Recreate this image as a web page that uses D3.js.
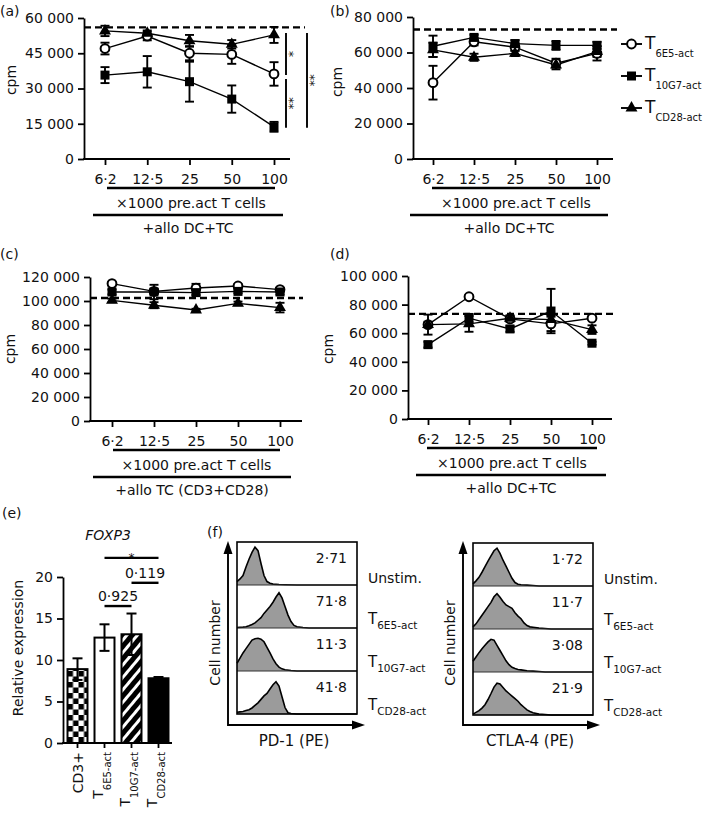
<!DOCTYPE html>
<html><head><meta charset="utf-8">
<script src="https://cdn.jsdelivr.net/npm/d3@7"></script>
<style>
body{margin:0;background:#fff}
svg{display:block}
text{font-family:"DejaVu Sans",Verdana,sans-serif;fill:#111}
</style>
</head><body>
<svg id="c" width="709" height="813"></svg>
<script>
// ---------------- DATA ----------------
const doses = ["6·2","12·5","25","50","100"];
const seriesNames = ["T6E5-act","T10G7-act","TCD28-act"];

// panel (a)
const a6E5 = [47000, 52300, 45000, 44500, 36200];
const a6E5Err = [2500, 1800, 3000, 4000, 5000];
const a10G7 = [35700, 37100, 32900, 25500, 13700];
const a10G7Err = [3400, 6700, 8500, 5800, 2100];
const aCD28 = [54500, 53500, 50300, 48800, 52800];
const aCD28Err = [2200, 1200, 2500, 1800, 3400];
const aRef = 56000;
const aTicks = [0, 15000, 30000, 45000, 60000];

// panel (b)
const b6E5 = [43000, 66000, 63000, 54000, 59500];
const b6E5Err = [9500, 2000, 2000, 2500, 4000];
const b10G7 = [63500, 68500, 65000, 64000, 64000];
const b10G7Err = [6000, 1500, 2000, 2500, 2000];
const bCD28 = [61500, 57300, 59500, 53000, 60500];
const bCD28Err = [4000, 2000, 1500, 2500, 3000];
const bRef = 73000;
const bTicks = [0, 20000, 40000, 60000, 80000];

// panel (c)
const c6E5 = [114500, 108000, 110800, 112500, 109500];
const c6E5Err = [1000, 2000, 3500, 1500, 1500];
const c10G7 = [107500, 107500, 107000, 108000, 107500];
const c10G7Err = [2000, 6000, 2000, 1500, 2000];
const cCD28 = [100500, 96500, 92500, 98000, 94500];
const cCD28Err = [1500, 2500, 1000, 1500, 4000];
const cRef = 102500;
const cTicks = [0, 20000, 40000, 60000, 80000, 100000, 120000];

// panel (d)
const d6E5 = [66000, 85500, 70000, 66500, 70500];
const d6E5Err = [2000, 1000, 2000, 5000, 1000];
const d10G7 = [52000, 70500, 63000, 75500, 53000];
const d10G7Err = [2000, 3000, 2000, 15500, 1000];
const dCD28 = [66000, 66500, 70500, 69500, 62500];
const dCD28Err = [7000, 5500, 2000, 3000, 3000];
const dRef = 73500;
const dTicks = [0, 20000, 40000, 60000, 80000, 100000];

// significance in (a): pairs of series (index) compared at dose 100
const aSigPairs = [[2, 0, "*"], [0, 1, "**"], [2, 1, "**"]];

// panel (e)
const eCats = ["CD3+", "T6E5-act", "T10G7-act", "TCD28-act"];
const eVals = [8.9, 12.7, 13.1, 7.8];
const eErr = [1.3, 1.6, 2.5, 0.15];
const eTicks = [0, 5, 10, 15, 20];
const eSig = [["T6E5-act", "T10G7-act", "0·925", 16.5], ["T10G7-act", "TCD28-act", "0·119", 19.3], ["T6E5-act", "TCD28-act", "*", 22.3]];

// panel (f)
const fRows = ["Unstim.", "T6E5-act", "T10G7-act", "TCD28-act"];
const pd1Pct = ["2·71", "71·8", "11·3", "41·8"];
const ctla4Pct = ["1·72", "11·7", "3·08", "21·9"];
const pd1Unstim = [[0,0.08],[0.025,0.14],[0.05,0.22],[0.075,0.42],[0.1,0.6],[0.125,0.76],[0.15,0.88],[0.175,0.8],[0.2,0.5],[0.225,0.22],[0.25,0.08],[0.275,0.04],[0.3,0.02],[0.35,0.01],[0.4,0.005],[0.5,0],[1,0]];
const pd1T6E5 = [[0,0.01],[0.05,0.02],[0.075,0.03],[0.1,0.05],[0.125,0.08],[0.15,0.12],[0.175,0.18],[0.2,0.24],[0.225,0.34],[0.25,0.42],[0.275,0.5],[0.3,0.6],[0.325,0.72],[0.35,0.82],[0.375,0.7],[0.4,0.5],[0.425,0.3],[0.45,0.15],[0.475,0.06],[0.5,0.03],[0.55,0.01],[0.6,0],[1,0]];
const pd1T10G7 = [[0,0.18],[0.025,0.3],[0.05,0.42],[0.075,0.52],[0.1,0.62],[0.125,0.72],[0.15,0.75],[0.175,0.76],[0.2,0.74],[0.225,0.68],[0.25,0.55],[0.275,0.42],[0.3,0.28],[0.325,0.17],[0.35,0.09],[0.375,0.05],[0.4,0.03],[0.45,0.01],[0.5,0],[1,0]];
const pd1TCD28 = [[0,0.04],[0.025,0.05],[0.05,0.06],[0.075,0.08],[0.1,0.1],[0.125,0.14],[0.15,0.2],[0.175,0.26],[0.2,0.34],[0.225,0.42],[0.25,0.48],[0.275,0.58],[0.3,0.68],[0.325,0.75],[0.35,0.65],[0.375,0.4],[0.4,0.15],[0.425,0.03],[0.45,0.01],[0.5,0],[1,0]];
const ctlaUnstim = [[0,0.05],[0.025,0.12],[0.05,0.2],[0.075,0.32],[0.1,0.45],[0.125,0.58],[0.15,0.7],[0.175,0.82],[0.2,0.88],[0.225,0.76],[0.25,0.6],[0.275,0.46],[0.3,0.32],[0.325,0.18],[0.35,0.08],[0.375,0.04],[0.4,0.03],[0.45,0.02],[0.5,0.01],[0.55,0],[1,0]];
const ctlaT6E5 = [[0,0.05],[0.025,0.12],[0.05,0.22],[0.075,0.32],[0.1,0.42],[0.125,0.52],[0.15,0.62],[0.175,0.75],[0.2,0.82],[0.225,0.74],[0.25,0.64],[0.275,0.56],[0.3,0.52],[0.325,0.48],[0.35,0.38],[0.375,0.3],[0.4,0.24],[0.425,0.14],[0.45,0.08],[0.475,0.05],[0.5,0.04],[0.55,0.02],[0.6,0.01],[0.65,0],[1,0]];
const ctlaT10G7 = [[0,0.25],[0.025,0.35],[0.05,0.45],[0.075,0.54],[0.1,0.62],[0.125,0.7],[0.15,0.76],[0.175,0.74],[0.2,0.62],[0.225,0.5],[0.25,0.38],[0.275,0.26],[0.3,0.17],[0.325,0.11],[0.35,0.08],[0.375,0.06],[0.4,0.05],[0.45,0.03],[0.5,0.02],[0.55,0.01],[0.6,0],[1,0]];
const ctlaTCD28 = [[0,0.02],[0.025,0.06],[0.05,0.1],[0.075,0.16],[0.1,0.24],[0.125,0.36],[0.15,0.5],[0.175,0.65],[0.2,0.74],[0.225,0.72],[0.25,0.64],[0.275,0.56],[0.3,0.5],[0.325,0.44],[0.35,0.38],[0.375,0.32],[0.4,0.24],[0.425,0.18],[0.45,0.12],[0.475,0.08],[0.5,0.05],[0.55,0.02],[0.6,0.01],[0.65,0],[1,0]];

// ---------------- DRAWING ----------------
const svg = d3.select("#c");
svg.append("rect").attr("width", 709).attr("height", 813).attr("fill", "#fff");
const FF = "DejaVu Sans, Verdana, sans-serif";
const fmt = d3.formatLocale({decimal: "·", thousands: " ", grouping: [3], currency: ["", ""]}).format(",d");
const shapes = ["circle", "square", "triangle"];

const defs = svg.append("defs");
const ck = defs.append("pattern").attr("id", "checker").attr("patternUnits", "userSpaceOnUse")
  .attr("width", 11).attr("height", 11).attr("x", 67.5).attr("y", 0);
ck.append("rect").attr("width", 11).attr("height", 11).attr("fill", "#fff");
ck.append("rect").attr("width", 5.5).attr("height", 5.5).attr("fill", "#000");
ck.append("rect").attr("x", 5.5).attr("y", 5.5).attr("width", 5.5).attr("height", 5.5).attr("fill", "#000");
const st = defs.append("pattern").attr("id", "stripes").attr("patternUnits", "userSpaceOnUse")
  .attr("width", 8).attr("height", 8).attr("patternTransform", "rotate(40)");
st.append("rect").attr("width", 8).attr("height", 8).attr("fill", "#000");
st.append("rect").attr("width", 3).attr("height", 8).attr("fill", "#fff");

function txt(g, x, y, s, size, anchor) {
  return g.append("text").attr("x", x).attr("y", y).attr("font-size", size || 14)
    .attr("text-anchor", anchor || "start").text(s);
}
function subText(g, x, y, main, sub, size, subSize, dy, anchor) {
  const t = g.append("text").attr("x", x).attr("y", y).attr("font-size", size).attr("text-anchor", anchor || "start");
  t.append("tspan").attr("font-size", size).text(main);
  if (sub) t.append("tspan").attr("font-size", subSize).attr("dy", dy).text(sub);
  return t;
}
function styleAxis(ax, size) {
  ax.attr("font-family", FF).attr("font-size", size || 14);
  ax.selectAll("path,line").attr("stroke", "#000").attr("stroke-width", 1.8);
  ax.selectAll("text").attr("fill", "#111");
}
function marker(g, shape, cx, cy) {
  if (shape === "circle") {
    g.append("circle").attr("cx", cx).attr("cy", cy).attr("r", 4.4).attr("fill", "#fff").attr("stroke", "#000").attr("stroke-width", 2);
  } else if (shape === "square") {
    g.append("rect").attr("x", cx - 4.5).attr("y", cy - 4.5).attr("width", 9).attr("height", 9).attr("fill", "#000");
  } else {
    g.append("path").attr("d", d3.symbol(d3.symbolTriangle, 62)()).attr("transform", `translate(${cx},${cy})`).attr("fill", "#000");
  }
}
function splitName(n) { return n.startsWith("T") && n !== "T" ? ["T", n.slice(1)] : [n, ""]; }

function linePanel(o) {
  const g = svg.append("g");
  const y = d3.scaleLinear().domain([0, o.ticks[o.ticks.length - 1]]).range([o.yb, o.yt]);
  const x = d3.scalePoint().domain(doses).range(o.xr);
  const ya = g.append("g").attr("transform", `translate(${o.x0},0)`)
    .call(d3.axisLeft(y).tickValues(o.ticks).tickFormat(fmt).tickSize(6).tickPadding(4).tickSizeOuter(0));
  styleAxis(ya);
  const xa = g.append("g").attr("transform", `translate(0,${o.yb})`)
    .call(d3.axisBottom(x).tickSize(6).tickPadding(9).tickSizeOuter(0));
  styleAxis(xa);
  xa.select(".domain").remove();
  g.append("line").attr("x1", o.x0 - 0.9).attr("x2", o.xe).attr("y1", o.yb).attr("y2", o.yb).attr("stroke", "#000").attr("stroke-width", 1.8);
  g.append("line").attr("x1", o.x0).attr("x2", o.refEnd).attr("y1", y(o.ref)).attr("y2", y(o.ref))
    .attr("stroke", "#000").attr("stroke-width", 2.4).attr("stroke-dasharray", "7,4");
  const ln = d3.line().x((d, i) => x(doses[i])).y(d => y(d));
  o.series.forEach(s => {
    g.append("path").datum(s.v).attr("d", ln).attr("fill", "none").attr("stroke", "#000").attr("stroke-width", 1.4);
  });
  o.series.forEach(s => {
    s.v.forEach((v, i) => {
      const cx = x(doses[i]), t = y(v + s.e[i]), b = y(v - s.e[i]);
      g.append("line").attr("x1", cx).attr("x2", cx).attr("y1", t).attr("y2", b).attr("stroke", "#000").attr("stroke-width", 1.9);
      [t, b].forEach(yy => g.append("line").attr("x1", cx - 4.5).attr("x2", cx + 4.5).attr("y1", yy).attr("y2", yy).attr("stroke", "#000").attr("stroke-width", 1.9));
    });
  });
  o.series.forEach((s, k) => s.v.forEach((v, i) => marker(g, shapes[k], x(doses[i]), y(v))));
  // labels under axis
  g.append("line").attr("x1", o.u1[0]).attr("x2", o.u1[1]).attr("y1", o.yb + 29).attr("y2", o.yb + 29).attr("stroke", "#000").attr("stroke-width", 2.6);
  txt(g, (o.u1[0] + o.u1[1]) / 2, o.yb + 49, "×1000 pre.act T cells", 14, "middle");
  g.append("line").attr("x1", o.u2[0]).attr("x2", o.u2[1]).attr("y1", o.yb + 56).attr("y2", o.yb + 56).attr("stroke", "#000").attr("stroke-width", 2.6);
  txt(g, o.t3x, o.yb + 74, o.t3, 14, "middle");
  g.append("text").attr("transform", `translate(${o.cpm[0]},${o.cpm[1]}) rotate(-90)`).attr("text-anchor", "middle").attr("font-size", 14).text("cpm");
  txt(g, o.tag[0], o.tag[1], o.tagText, 14);
  return {g, x, y};
}

// (a)
const A = linePanel({x0: 84, xr: [105, 274], xe: 290, refEnd: 305, yb: 159, yt: 18, ticks: aTicks, ref: aRef,
  series: [{v: a6E5, e: a6E5Err}, {v: a10G7, e: a10G7Err}, {v: aCD28, e: aCD28Err}],
  u1: [107, 275], u2: [93, 283], t3: "+allo DC+TC", t3x: 188, cpm: [16, 80], tag: [0, 16], tagText: "(a)"});
{
  const aSeries = [a6E5, a10G7, aCD28];
  const last = doses[doses.length - 1];
  aSigPairs.forEach((p, k) => {
    const col = k === 2 ? 1 : 0;
    const lx = A.x(last) + 12 + col * 21;
    let y1 = A.y(aSeries[p[0]][4]) - 2, y2 = A.y(aSeries[p[1]][4]) + 1;
    if (k === 1) y1 += 7;
    A.g.append("line").attr("x1", lx).attr("x2", lx).attr("y1", y1).attr("y2", y2).attr("stroke", "#000").attr("stroke-width", 1.9);
    A.g.append("text").attr("transform", `translate(${lx - 1},${(y1 + y2) / 2}) rotate(90)`).attr("text-anchor", "middle")
      .attr("font-size", 12).attr("fill", "#000").text(p[2]);
  });
}
// (b)
const B = linePanel({x0: 413, xr: [433, 597], xe: 613, refEnd: 617, yb: 159, yt: 17, ticks: bTicks, ref: bRef,
  series: [{v: b6E5, e: b6E5Err}, {v: b10G7, e: b10G7Err}, {v: bCD28, e: bCD28Err}],
  u1: [432, 600], u2: [410, 608], t3: "+allo DC+TC", t3x: 509, cpm: [342, 82], tag: [330, 16], tagText: "(b)"});
// legend
seriesNames.forEach((n, k) => {
  const ly = 44 + k * 32;
  B.g.append("line").attr("x1", 621).attr("x2", 642).attr("y1", ly).attr("y2", ly).attr("stroke", "#000").attr("stroke-width", 1.9);
  marker(B.g, shapes[k], 631.5, ly);
  const [m, s] = splitName(n);
  subText(B.g, 645, ly + 5, m, s, 17, 10, 8);
});
// (c)
linePanel({x0: 90, xr: [112, 280], xe: 302, refEnd: 303, yb: 421, yt: 277, ticks: cTicks, ref: cRef,
  series: [{v: c6E5, e: c6E5Err}, {v: c10G7, e: c10G7Err}, {v: cCD28, e: cCD28Err}],
  u1: [113, 280], u2: [93, 291], t3: "+allo TC (CD3+CD28)", t3x: 192, cpm: [15, 349], tag: [0, 259], tagText: "(c)"});
// (d)
linePanel({x0: 408, xr: [428, 592], xe: 612, refEnd: 615, yb: 419, yt: 276, ticks: dTicks, ref: dRef,
  series: [{v: d6E5, e: d6E5Err}, {v: d10G7, e: d10G7Err}, {v: dCD28, e: dCD28Err}],
  u1: [427, 597], u2: [416, 606], t3: "+allo DC+TC", t3x: 511, cpm: [333, 349], tag: [330, 259], tagText: "(d)"});

// (e)
{
  const g = svg.append("g");
  const y = d3.scaleLinear().domain([0, 20]).range([743, 577]);
  const x = d3.scaleBand().domain(eCats).range([64, 172]).paddingInner(0.26).paddingOuter(0.13);
  const fills = ["url(#checker)", "#fff", "url(#stripes)", "#000"];
  eCats.forEach((c, i) => {
    g.append("rect").attr("x", x(c)).attr("y", y(eVals[i])).attr("width", x.bandwidth()).attr("height", y(0) - y(eVals[i]))
      .attr("fill", fills[i]).attr("stroke", "#000").attr("stroke-width", 2);
  });
  eCats.forEach((c, i) => {
    const cx = x(c) + x.bandwidth() / 2, t = y(eVals[i] + eErr[i]), b = y(eVals[i] - eErr[i]);
    g.append("line").attr("x1", cx).attr("x2", cx).attr("y1", t).attr("y2", b).attr("stroke", "#000").attr("stroke-width", 2);
    [t, b].forEach(yy => g.append("line").attr("x1", cx - 5).attr("x2", cx + 5).attr("y1", yy).attr("y2", yy).attr("stroke", "#000").attr("stroke-width", 2));
  });
  const ya = g.append("g").attr("transform", "translate(63,0)")
    .call(d3.axisLeft(y).tickValues(eTicks).tickSize(6).tickPadding(4).tickSizeOuter(0));
  styleAxis(ya);
  const xa = g.append("g").attr("transform", "translate(0,743)")
    .call(d3.axisBottom(x).tickSize(5).tickSizeOuter(0).tickFormat(""));
  styleAxis(xa);
  xa.select(".domain").attr("d", "M62.1,0H172");
  eCats.forEach(c => {
    const cx = x(c) + x.bandwidth() / 2;
    const [m, s] = splitName(c);
    if (s) {
      subText(g, 0, 0, m, s, 14, 10, 8, "end").attr("transform", `translate(${cx - 2},752) rotate(-90)`);
    } else {
      subText(g, 0, 0, m, "", 14, 10, 0, "end").attr("transform", `translate(${cx + 5},752) rotate(-90)`);
    }
  });
  eSig.forEach(s => {
    const x1 = x(s[0]) + x.bandwidth() / 2, x2 = x(s[1]) + x.bandwidth() / 2, ly = y(s[3]);
    g.append("line").attr("x1", x1).attr("x2", x2).attr("y1", ly).attr("y2", ly).attr("stroke", "#000").attr("stroke-width", 2.4);
    if (s[2] === "*") txt(g, (x1 + x2) / 2, ly + 4, s[2], 12, "middle");
    else txt(g, (x1 + x2) / 2, ly - 5, s[2], 14, "middle");
  });
  txt(g, 2, 518, "(e)", 14);
  txt(g, 108, 540, "FOXP3", 14, "middle").attr("font-style", "italic");
  g.append("text").attr("transform", "translate(23,648) rotate(-90)").attr("text-anchor", "middle").attr("font-size", 14).text("Relative expression");
}

// (f)
function histPanel(o) {
  const g = svg.append("g");
  const rowH = (o.B - o.T) / fRows.length;
  const x = d3.scaleLinear().domain([0, 1]).range([o.L, o.R]);
  fRows.forEach((r, i) => {
    const top = o.T + i * rowH, bot = top + rowH;
    const y = d3.scaleLinear().domain([0, 1]).range([bot, top]);
    g.append("path").datum(o.data[i]).attr("d", d3.area().x(d => x(d[0])).y0(bot).y1(d => y(d[1])))
      .attr("fill", "#9b9b9b");
    g.append("path").datum(o.data[i]).attr("d", d3.line().x(d => x(d[0])).y(d => y(d[1])))
      .attr("fill", "none").attr("stroke", "#000").attr("stroke-width", 1.6);
    if (i > 0) g.append("line").attr("x1", o.L).attr("x2", o.R).attr("y1", top).attr("y2", top).attr("stroke", "#333").attr("stroke-width", 1.2);
    txt(g, o.R - 10, top + 21, o.pct[i], 14, "end");
    const [m, s] = splitName(r);
    if (s) subText(g, o.R + 11, top + 39, m, s, 15, 10.5, 5);
    else txt(g, o.R + 11, top + 41, m, 14);
  });
  g.append("rect").attr("x", o.L).attr("y", o.T).attr("width", o.R - o.L).attr("height", o.B - o.T)
    .attr("fill", "none").attr("stroke", "#000").attr("stroke-width", 1.6);
  // arrows
  g.append("line").attr("x1", o.ax).attr("x2", o.ax).attr("y1", 725.9).attr("y2", 552).attr("stroke", "#000").attr("stroke-width", 1.9);
  g.append("path").attr("d", `M${o.ax},541L${o.ax - 4.5},554L${o.ax + 4.5},554Z`).attr("fill", "#000");
  g.append("line").attr("x1", o.ax).attr("x2", o.tip - 10).attr("y1", 725).attr("y2", 725).attr("stroke", "#000").attr("stroke-width", 1.9);
  g.append("path").attr("d", `M${o.tip},725L${o.tip - 13},720.5L${o.tip - 13},729.5Z`).attr("fill", "#000");
  g.append("text").attr("transform", `translate(${o.ax - 8},643) rotate(-90)`).attr("text-anchor", "middle").attr("font-size", 14).text("Cell number");
  txt(g, (o.L + o.R) / 2 - 3, 746, o.label, 15, "middle");
}
histPanel({L: 237, R: 357, T: 542, B: 714, ax: 228, tip: 365, pct: pd1Pct, label: "PD-1 (PE)",
  data: [pd1Unstim, pd1T6E5, pd1T10G7, pd1TCD28]});
histPanel({L: 473, R: 593, T: 543, B: 715, ax: 463, tip: 600, pct: ctla4Pct, label: "CTLA-4 (PE)",
  data: [ctlaUnstim, ctlaT6E5, ctlaT10G7, ctlaTCD28]});
txt(svg, 207, 537, "(f)", 14);
</script>
</body></html>
